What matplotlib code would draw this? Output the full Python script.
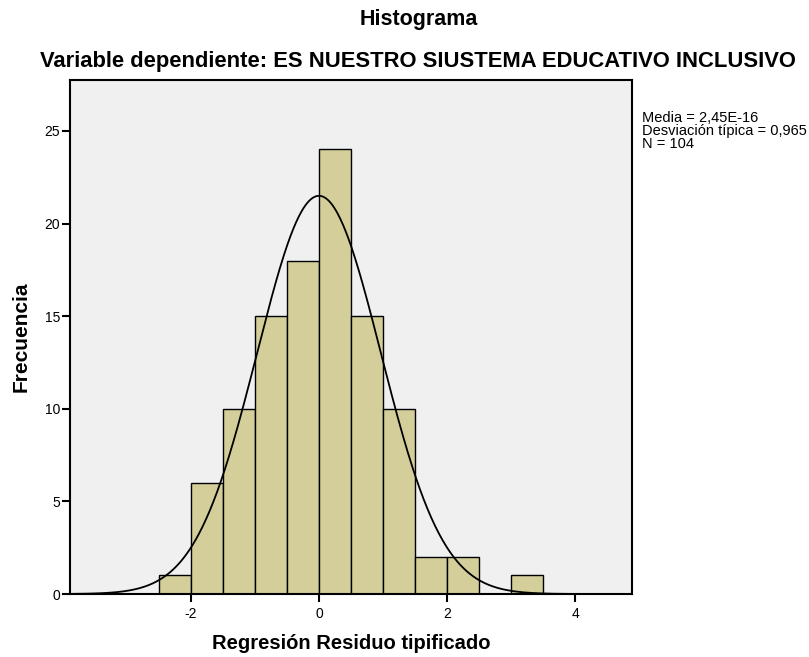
import numpy as np
import matplotlib
matplotlib.use("Agg")
import matplotlib.pyplot as plt

plt.rcParams['font.family'] = ['Liberation Sans', 'DejaVu Sans']

# standardized residual histogram, bins of width 0.5
bin_edges = [-2.5, -2.0, -1.5, -1.0, -0.5, 0.0, 0.5, 1.0, 1.5, 2.0, 2.5, 3.0, 3.5]
counts = [1, 6, 10, 15, 18, 24, 15, 10, 2, 2, 0, 1]
mean = 2.45e-16
std = 0.965
n = 104

x_ticks = [-2, 0, 2, 4]
y_ticks = [0, 5, 10, 15, 20, 25]

fig = plt.figure(figsize=(8.09, 6.57), dpi=100)
fig.set_facecolor('white')
ax = fig.add_axes([70 / 809, 63 / 657, 562 / 809, 514 / 657])
ax.set_facecolor('#F0F0F0')

edges = np.array(bin_edges)
widths = np.diff(edges)
ax.bar(edges[:-1], counts, width=widths, align='edge',
       color='#D3CE9A', edgecolor='black', linewidth=1.0, zorder=2)

# normal curve scaled to counts
xs = np.linspace(-3.89, 4.89, 600)
bw = widths[0]
ys = n * bw / (std * np.sqrt(2 * np.pi)) * np.exp(-0.5 * ((xs - mean) / std) ** 2)
ax.plot(xs, ys, color='black', linewidth=1.3, zorder=3)

ax.set_xlim(-3.89, 4.89)
ax.set_ylim(0, 27.75)
ax.set_xticks(x_ticks)
ax.set_yticks(y_ticks)
ax.set_xticklabels([str(v) for v in x_ticks])
ax.tick_params(axis='both', direction='out', length=6, width=1.5,
               labelsize=10, colors='black')
ax.tick_params(axis='x', pad=3)
ax.tick_params(axis='y', pad=1)
for s in ax.spines.values():
    s.set_linewidth(1.5)
    s.set_color('black')

ax.set_xlabel('Regresión Residuo tipificado', fontsize=14.5, fontweight='bold', labelpad=10)
ax.set_ylabel('Frecuencia', fontsize=15, fontweight='bold', labelpad=10)

fig.text(419 / 809, 1 - 20 / 657, 'Histograma',
         ha='center', va='center', fontsize=15.5, fontweight='bold')
fig.text(418 / 809, 1 - 62 / 657,
         'Variable dependiente: ES NUESTRO SIUSTEMA EDUCATIVO INCLUSIVO',
         ha='center', va='center', fontsize=15.8, fontweight='bold')

fig.text(642 / 809, 1 - 111 / 657,
         'Media = 2,45E-16\nDesviación típica = 0,965\nN = 104',
         ha='left', va='top', fontsize=10.5, linespacing=0.9)

fig.savefig('out.png', dpi=100)
